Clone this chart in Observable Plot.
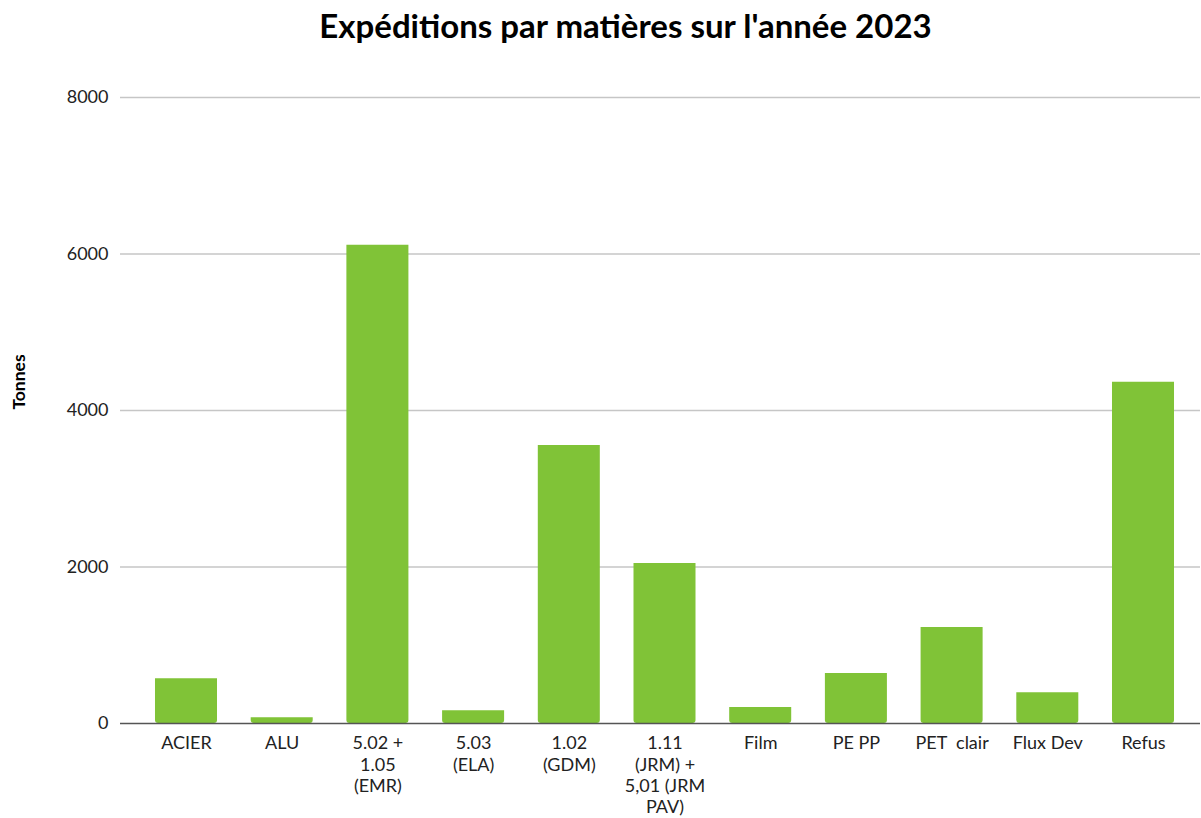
<!DOCTYPE html>
<html>
<head>
<meta charset="utf-8">
<script src="https://cdn.jsdelivr.net/npm/d3@7"></script>
<script src="https://cdn.jsdelivr.net/npm/@observablehq/plot@0.6"></script>
<style>
  html, body { margin: 0; padding: 0; background: #fff; }
  #wrap { position: relative; width: 1201px; height: 818px; font-family: Lato, "Open Sans", sans-serif; }
  #title { position: absolute; left: 0; top: 0; width: 1251px; height: 60px; line-height: 50px; text-align: center;
           font-size: 33px; font-weight: bold; color: #000; z-index: 2; }
  #ylabel { position: absolute; left: 18px; top: 382px; transform: translate(-50%, -50%) rotate(-90deg);
            font-size: 17.5px; font-weight: bold; color: #000; white-space: nowrap; z-index: 2; }
  #chart { position: absolute; left: 0; top: 60px; z-index: 1; }
  #chart svg text { white-space: pre; }
</style>
</head>
<body>
<div id="wrap">
  <div id="chart"></div>
  <div id="title">Expéditions par matières sur l'année 2023</div>
  <div id="ylabel">Tonnes</div>
</div>
<script>
const categories = ["ACIER", "ALU", "5.02 + 1.05 (EMR)", "5.03 (ELA)", "1.02 (GDM)", "1.11 (JRM) + 5,01 (JRM PAV)", "Film", "PE PP", "PET  clair", "Flux Dev", "Refus"];
const tickLabels = ["ACIER", "ALU", "5.02 +\n1.05\n(EMR)", "5.03\n(ELA)", "1.02\n(GDM)", "1.11\n(JRM) +\n5,01 (JRM\nPAV)", "Film", "PE PP", "PET  clair", "Flux Dev", "Refus"];
const tonnes = [571, 73, 6112, 162, 3553, 2045, 204, 639, 1227, 392, 4362];
const yTicks = [0, 2000, 4000, 6000, 8000];

const data = categories.map((c, i) => ({category: c, value: tonnes[i]}));
const labelOf = new Map(categories.map((c, i) => [c, tickLabels[i]]));

const chart = Plot.plot({
  width: 1201,
  height: 758,
  marginTop: 37,
  marginBottom: 95,
  marginLeft: 120,
  marginRight: 1,
  style: {fontFamily: "Lato, 'Open Sans', sans-serif", fontSize: "18px", color: "#222", background: "#fff"},
  x: {domain: categories, paddingInner: 0.352, paddingOuter: 0.2716, insetLeft: 9, insetRight: 0, round: false, label: null},
  y: {domain: [0, 8000], ticks: yTicks, label: null},
  marks: [
    Plot.ruleY(yTicks.filter(d => d > 0), {stroke: "#c6c6c6", strokeWidth: 1.5}),
    Plot.barY(data, {x: "category", y: "value", fill: "#80c337", ry2: 3}),
    Plot.ruleY([0], {stroke: "#555", strokeWidth: 1.5}),
    Plot.axisY({ticks: yTicks, tickSize: 0, tickPadding: 12, tickFormat: d => String(d), fontSize: 18, fill: "#222", label: null}),
    Plot.axisX({tickSize: 0, tickPadding: 11, tickFormat: d => labelOf.get(d), fontSize: 18, lineHeight: 1.17, fill: "#222", label: null})
  ]
});
document.getElementById("chart").appendChild(chart);
</script>
</body>
</html>
